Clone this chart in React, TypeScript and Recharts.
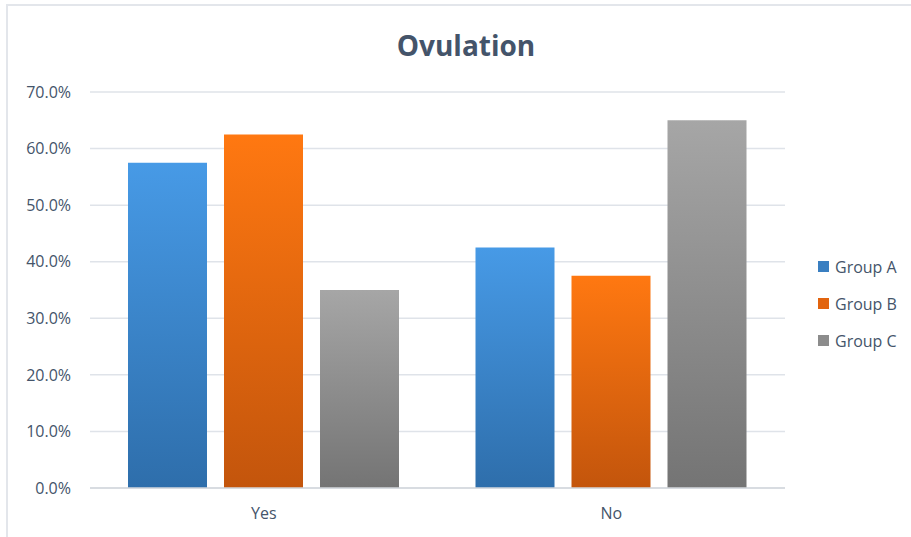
import React from 'react';
import { BarChart, Bar, XAxis, YAxis, CartesianGrid } from 'recharts';

const categories = ['Yes', 'No'];
const groupA = [57.5, 42.5];
const groupB = [62.5, 37.5];
const groupC = [35.0, 65.0];
const yTicks = [0, 10, 20, 30, 40, 50, 60, 70];

const data = categories.map((name, i) => ({
  name,
  a: groupA[i],
  b: groupB[i],
  c: groupC[i],
}));

const series = [
  { key: 'a', label: 'Group A', grad: 'gradA', swatch: '#3a7fc1' },
  { key: 'b', label: 'Group B', grad: 'gradB', swatch: '#e2640e' },
  { key: 'c', label: 'Group C', grad: 'gradC', swatch: '#8c8c8c' },
];

const FONT = '"Open Sans", "Noto Sans", sans-serif';

const LegendBox = () => (
  <div
    style={{
      position: 'absolute',
      left: 818,
      top: 248,
      fontFamily: FONT,
      fontSize: 16,
      color: '#44546a',
    }}
  >
    {series.map((s) => (
      <div key={s.key} style={{ display: 'flex', alignItems: 'center', height: 37 }}>
        <span
          style={{ display: 'inline-block', width: 11, height: 11, background: s.swatch, marginRight: 6 }}
        />
        <span>{s.label}</span>
      </div>
    ))}
  </div>
);

export default function App() {
  return (
    <div style={{ position: 'absolute', left: 0, top: 0, width: 911, height: 537, background: '#fff' }}>
      <div
        style={{
          position: 'absolute',
          left: 6,
          top: 4,
          right: 0,
          bottom: 0,
          borderLeft: '2px solid #e3e6eb',
          borderTop: '2px solid #e3e6eb',
        }}
      />
      <div
        style={{
          position: 'absolute',
          left: 0,
          top: 26,
          width: 932,
          textAlign: 'center',
          fontFamily: FONT,
          fontWeight: 700,
          fontSize: 28,
          color: '#44546a',
        }}
      >
        Ovulation
      </div>
      <BarChart
        width={911}
        height={537}
        data={data}
        margin={{ top: 92, right: 126, bottom: 19, left: 0 }}
        barGap={17}
        barSize={79}
        style={{ position: 'absolute', left: 0, top: 0 }}
      >
        <defs>
          <linearGradient id="gradA" x1="0" y1="0" x2="0" y2="1">
            <stop offset="0%" stopColor="#479ae6" />
            <stop offset="100%" stopColor="#2e6eab" />
          </linearGradient>
          <linearGradient id="gradB" x1="0" y1="0" x2="0" y2="1">
            <stop offset="0%" stopColor="#ff7811" />
            <stop offset="100%" stopColor="#c3550c" />
          </linearGradient>
          <linearGradient id="gradC" x1="0" y1="0" x2="0" y2="1">
            <stop offset="0%" stopColor="#a6a6a6" />
            <stop offset="100%" stopColor="#747474" />
          </linearGradient>
        </defs>
        <CartesianGrid vertical={false} stroke="#dfe3e9" strokeWidth={1.5} />
        <XAxis
          dataKey="name"
          height={30}
          axisLine={{ stroke: '#d3d7dd', strokeWidth: 1.5 }}
          tickLine={false}
          tickSize={0}
          tickMargin={20}
          tick={{ fill: '#44546a', fontSize: 16, fontFamily: FONT }}
        />
        <YAxis
          width={90}
          domain={[0, 70]}
          ticks={yTicks}
          interval={0}
          axisLine={false}
          tickLine={false}
          tickSize={0}
          tickMargin={19}
          tickFormatter={(v: number) => `${v.toFixed(1)}%`}
          tick={{ fill: '#44546a', fontSize: 16, fontFamily: FONT }}
        />
        {series.map((s) => (
          <Bar key={s.key} dataKey={s.key} name={s.label} fill={`url(#${s.grad})`} isAnimationActive={false} />
        ))}
      </BarChart>
      <LegendBox />
    </div>
  );
}
